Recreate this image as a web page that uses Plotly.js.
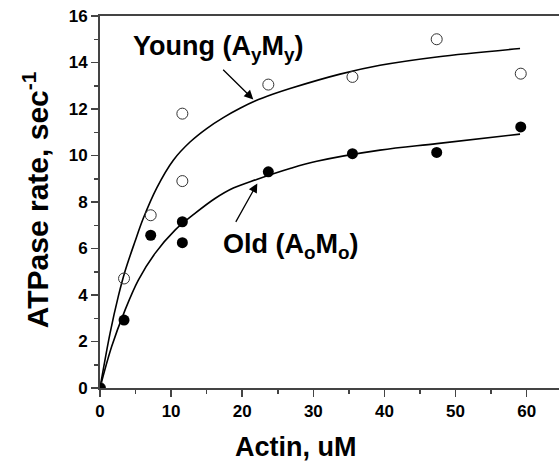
<!DOCTYPE html>
<html>
<head>
<meta charset="utf-8">
<script src="https://cdn.plot.ly/plotly-3.0.1.min.js"></script>
<style>html,body{margin:0;padding:0;overflow:hidden;background:#fff;}</style>
</head>
<body>
<div id="chart"></div>
<script>
// Measured data points
const youngX = [0, 3.38, 7.13, 11.58, 11.58, 23.67, 35.5, 47.35, 59.17];
const youngY = [0, 4.71, 7.43, 8.9, 11.8, 13.05, 13.38, 15.0, 13.52];
const oldX = [0, 3.38, 7.13, 11.58, 11.58, 23.67, 35.5, 47.35, 59.17];
const oldY = [0, 2.92, 6.57, 6.25, 7.15, 9.3, 10.08, 10.13, 11.23];

// Fitted curves
const youngFitX = [0, 1.41, 2.58, 3.52, 4.92, 6.09, 7.97, 10.31, 12.66, 15.0, 17.34, 19.69, 21.8, 24.37, 26.72, 33.75, 39.38, 47.36, 59.07];
const youngFitY = [0, 2.35, 3.95, 5.02, 6.3, 7.3, 8.6, 9.8, 10.58, 11.16, 11.63, 12.03, 12.34, 12.64, 12.88, 13.5, 13.88, 14.24, 14.6];
const oldFitX = [0, 1.64, 3.52, 5.39, 7.74, 10.55, 13.36, 16.17, 18.75, 22.03, 26.72, 30.48, 39.38, 47.36, 59.07];
const oldFitY = [0, 1.78, 3.35, 4.64, 5.79, 6.79, 7.51, 8.15, 8.6, 8.97, 9.44, 9.75, 10.23, 10.51, 10.92];

const xTicks = [0, 10, 20, 30, 40, 50, 60];
const yTicks = [0, 2, 4, 6, 8, 10, 12, 14, 16];

const xTitle = 'Actin, uM';
const yTitle = 'ATPase rate, sec<sup>-1</sup>';
const youngLabel = 'Young (A<sub>y</sub>M<sub>y</sub>)';
const oldLabel = 'Old (A<sub>o</sub>M<sub>o</sub>)';

const FONT = 'Liberation Sans, Arial, Helvetica, sans-serif';

const traces = [
  {x: youngFitX, y: youngFitY, mode: 'lines', line: {color: '#000', width: 1.6, shape: 'spline', smoothing: 1}, hoverinfo: 'skip'},
  {x: oldFitX, y: oldFitY, mode: 'lines', line: {color: '#000', width: 1.6, shape: 'spline', smoothing: 1}, hoverinfo: 'skip'},
  {x: youngX, y: youngY, mode: 'markers', marker: {symbol: 'circle-open', size: 11, color: '#333', line: {width: 1, color: '#333'}}},
  {x: oldX, y: oldY, mode: 'markers', marker: {symbol: 'circle', size: 11, color: '#000'}}
];

const layout = {
  width: 562, height: 463,
  margin: {l: 100, r: 0, t: 16, b: 75},
  showlegend: false,
  paper_bgcolor: '#fff', plot_bgcolor: '#fff',
  font: {family: FONT, color: '#000'},
  xaxis: {
    range: [0, 64.97],
    tickvals: xTicks, ticktext: xTicks.map(String),
    ticks: 'outside', ticklen: 7, tickwidth: 1.5, tickcolor: '#444',
    minor: {dtick: 5, tick0: 0, ticks: 'outside', ticklen: 4, tickwidth: 1.5, tickcolor: '#444'},
    showline: true, linecolor: '#444', linewidth: 2, mirror: true,
    showgrid: false, zeroline: false,
    tickfont: {family: FONT, size: 17, weight: 'bold', color: '#000'}
  },
  yaxis: {
    range: [0, 16],
    tickvals: yTicks, ticktext: yTicks.map(String),
    ticks: 'outside', ticklen: 7, tickwidth: 1.5, tickcolor: '#444',
    minor: {dtick: 1, tick0: 0, ticks: 'outside', ticklen: 4, tickwidth: 1.5, tickcolor: '#444'},
    showline: true, linecolor: '#444', linewidth: 2, mirror: true,
    showgrid: false, zeroline: false,
    tickfont: {family: FONT, size: 17, weight: 'bold', color: '#000'}
  },
  annotations: [
    {x: 0.4253, y: -0.158, xref: 'paper', yref: 'paper', xanchor: 'center', yanchor: 'middle', showarrow: false,
     text: xTitle, font: {family: FONT, size: 27, weight: 'bold', color: '#000'}},
    {x: -0.1385, y: 0.505, xref: 'paper', yref: 'paper', xanchor: 'center', yanchor: 'middle', showarrow: false, textangle: -90,
     text: yTitle, font: {family: FONT, size: 30, weight: 'bold', color: '#000'}},
    {x: 4.3, y: 14.62, xref: 'x', yref: 'y', xanchor: 'left', yanchor: 'middle', showarrow: false,
     text: youngLabel, font: {family: FONT, size: 27, weight: 'bold', color: '#000'}},
    {x: 17.0, y: 6.1, xref: 'x', yref: 'y', xanchor: 'left', yanchor: 'middle', showarrow: false,
     text: oldLabel, font: {family: FONT, size: 27, weight: 'bold', color: '#000'}},
    {x: 21.56, y: 12.41, ax: 17.11, ay: 13.75, xref: 'x', yref: 'y', axref: 'x', ayref: 'y', text: '',
     showarrow: true, arrowhead: 2, arrowsize: 1.4, arrowwidth: 1.3, arrowcolor: '#000'},
    {x: 22.12, y: 8.8, ax: 18.98, ay: 7.08, xref: 'x', yref: 'y', axref: 'x', ayref: 'y', text: '',
     showarrow: true, arrowhead: 2, arrowsize: 1.4, arrowwidth: 1.3, arrowcolor: '#000'}
  ]
};

Plotly.newPlot('chart', traces, layout, {displayModeBar: false, staticPlot: true});
</script>
</body>
</html>
